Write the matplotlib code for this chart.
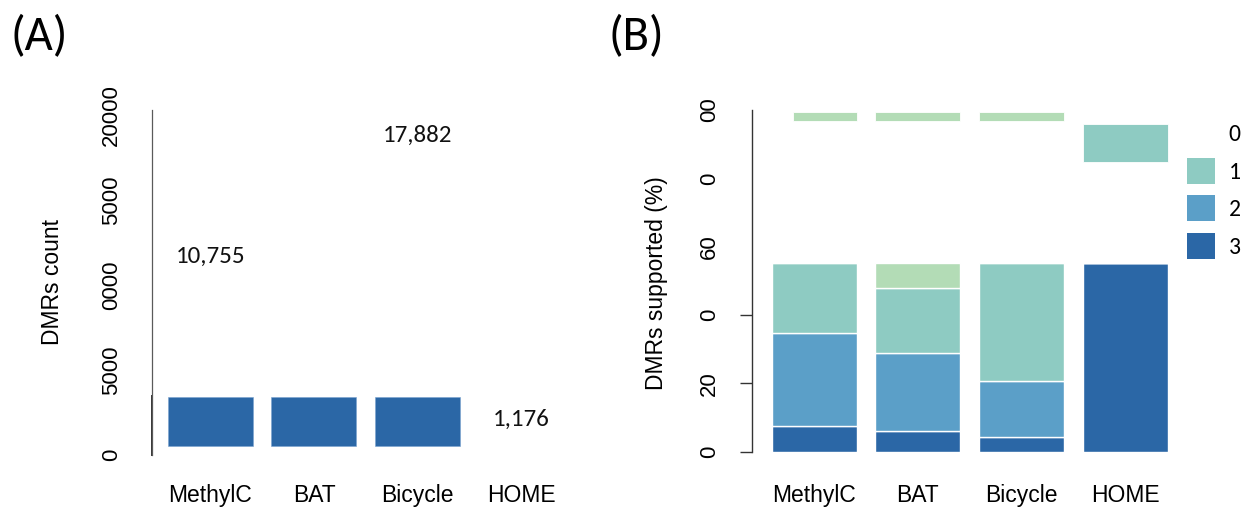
import numpy as np
import matplotlib
matplotlib.use("Agg")
import matplotlib.pyplot as plt
from matplotlib.patches import Patch
from matplotlib import font_manager as fm

# ---------------- data ----------------
categories = ["MethylC", "BAT", "Bicycle", "HOME"]

# Panel A: DMR counts printed above the (cropped) bars
dmr_count_labels = [10755, None, 17882, 1176]
# visible extent of the (cropped) count bars, in count units
bar_a_bottom = [530, 530, 530, 0]
bar_a_top = [3390, 3390, 3390, 0]
yticks_a = [0, 5000, 10000, 15000, 20000]
yticklabels_a = ["0", "5000", "0000", "5000", "20000"]

# Panel B: visible stacked segments (% of DMRs supported by n tools)
pct_3 = [7.5, 6.2, 4.4, 55.3]
pct_2 = [27.1, 22.7, 16.3, 0.0]
pct_1 = [20.7, 18.9, 34.6, 0.0]
pct_0 = [0.0, 7.5, 0.0, 0.0]
# detached upper pieces
top_piece_bottom = [96.7, 96.7, 96.7, 84.8]
top_piece_top = [99.4, 99.4, 99.4, 95.9]
top_piece_level = ["0", "0", "0", "1"]
top_piece_frac = [0.75, 1.0, 1.0, 1.0]
yticks_b = [0, 20, 40, 60, 80, 100]
yticklabels_b = ["0", "20", "0", "60", "0", "00"]
yticks_b_marked = [0, 20, 40]
legend_levels = ["0", "1", "2", "3"]

# ---------------- style ----------------
def pick(*names):
    avail = {f.name for f in fm.fontManager.ttflist}
    got = [n for n in names if n in avail]
    return got if got else ["DejaVu Sans"]

SANS = pick("Liberation Sans", "Arial", "DejaVu Sans")
CAL = pick("Carlito", "Lato", "Open Sans")

DARK = "#2b67a6"
MID = "#5b9fc8"
TEAL = "#8ecbc2"
LGREEN = "#b3dcb6"
level_color = {"3": DARK, "2": MID, "1": TEAL, "0": LGREEN}

W, H = 1253, 509
fig = plt.figure(figsize=(W / 100, H / 100), dpi=100)

def fx(px):
    return px / W

def fy(py):
    return 1 - py / H

# ---------------- panel A ----------------
axA = fig.add_axes([fx(151.5), fy(455), fx(573.3) - fx(151.5), fy(110) - fy(455)])
x = np.arange(len(categories))
hA = [t - b for t, b in zip(bar_a_top, bar_a_bottom)]
axA.bar(x, hA, bottom=bar_a_bottom, width=0.82, color=DARK,
        edgecolor="#7aa3cf", linewidth=0.4)
for xi, v in zip(x, dmr_count_labels):
    if v is not None:
        axA.annotate(f"{v:,}", (xi, v), xytext=(0, 16), textcoords="offset pixels",
                     ha="center", va="center", fontsize=18, family=CAL, color="#111111")
axA.set_xlim(-0.566, 3.5)
axA.set_ylim(0, 20300)
axA.set_xticks(x)
axA.set_xticklabels(categories, family=SANS, fontsize=16.5)
axA.set_yticks(yticks_a)
axA.set_yticklabels(yticklabels_a, rotation=90, va="center", family=SANS, fontsize=16)
axA.tick_params(axis="y", length=0, pad=21)
axA.tick_params(axis="x", length=0, pad=21)
for s in ["top", "right", "bottom"]:
    axA.spines[s].set_visible(False)
axA.spines["left"].set_color("#5a5a5a")
axA.spines["left"].set_linewidth(0.9)
axA.plot([0, 0], [0, 3500], transform=axA.get_yaxis_transform(), color="#333333",
         lw=1.4, clip_on=False)
axA.set_ylabel("DMRs count", family=SANS, fontsize=16.5)
axA.yaxis.set_label_coords(fx(64), fy(282), transform=fig.transFigure)

# ---------------- panel B ----------------
axB = fig.add_axes([fx(752), fy(451.7), fx(1177) - fx(752), fy(110) - fy(451.7)])
bw = 0.82
bottom = np.zeros(len(categories))
for vals, lvl in [(pct_3, "3"), (pct_2, "2"), (pct_1, "1"), (pct_0, "0")]:
    vals = np.array(vals)
    axB.bar(x, vals, bottom=bottom, width=bw, color=level_color[lvl],
            edgecolor="white", linewidth=1.0)
    bottom += vals
for xi, b, t, lvl, fr in zip(x, top_piece_bottom, top_piece_top, top_piece_level, top_piece_frac):
    w = bw * fr
    axB.bar(xi + bw / 2 - w / 2, t - b, bottom=b, width=w, color=level_color[lvl],
            edgecolor="white", linewidth=0.6)
axB.set_xlim(-0.6, 3.5)
axB.set_ylim(0, 100)
axB.set_xticks(x)
axB.set_xticklabels(categories, family=SANS, fontsize=16.5)
axB.set_yticks(yticks_b)
axB.set_yticklabels(yticklabels_b, rotation=90, va="center", family=SANS, fontsize=16)
axB.yaxis.remove_overlapping_locs = False
axB.set_yticks(yticks_b_marked, minor=True)
axB.tick_params(axis="y", which="major", length=0, pad=23)
axB.tick_params(axis="y", which="minor", length=8.6, width=1.0, color="#333333")
axB.tick_params(axis="x", length=0, pad=23)
for s in ["top", "right", "bottom"]:
    axB.spines[s].set_visible(False)
axB.spines["left"].set_color("#333333")
axB.spines["left"].set_linewidth(1.0)
axB.set_ylabel("DMRs supported (%)", family=SANS, fontsize=16.5)
axB.yaxis.set_label_coords(fx(668), fy(283), transform=fig.transFigure)

handles = [Patch(facecolor="none", edgecolor="none")] + \
          [Patch(facecolor=level_color[l], edgecolor="none") for l in legend_levels[1:]]
fig.legend(handles, legend_levels, loc="upper left",
           bbox_to_anchor=(fx(1187), fy(120)), frameon=False, borderpad=0,
           borderaxespad=0, handlelength=1.17, handleheight=1.34, handletextpad=0.6,
           labelspacing=0.475, prop=dict(family=CAL, size=17))

# panel letters
fig.text(fx(11), fy(37), "(A)", ha="left", va="center", fontsize=35, family=CAL)
fig.text(fx(608), fy(37), "(B)", ha="left", va="center", fontsize=35, family=CAL)

fig.savefig("out.png", dpi=100)
